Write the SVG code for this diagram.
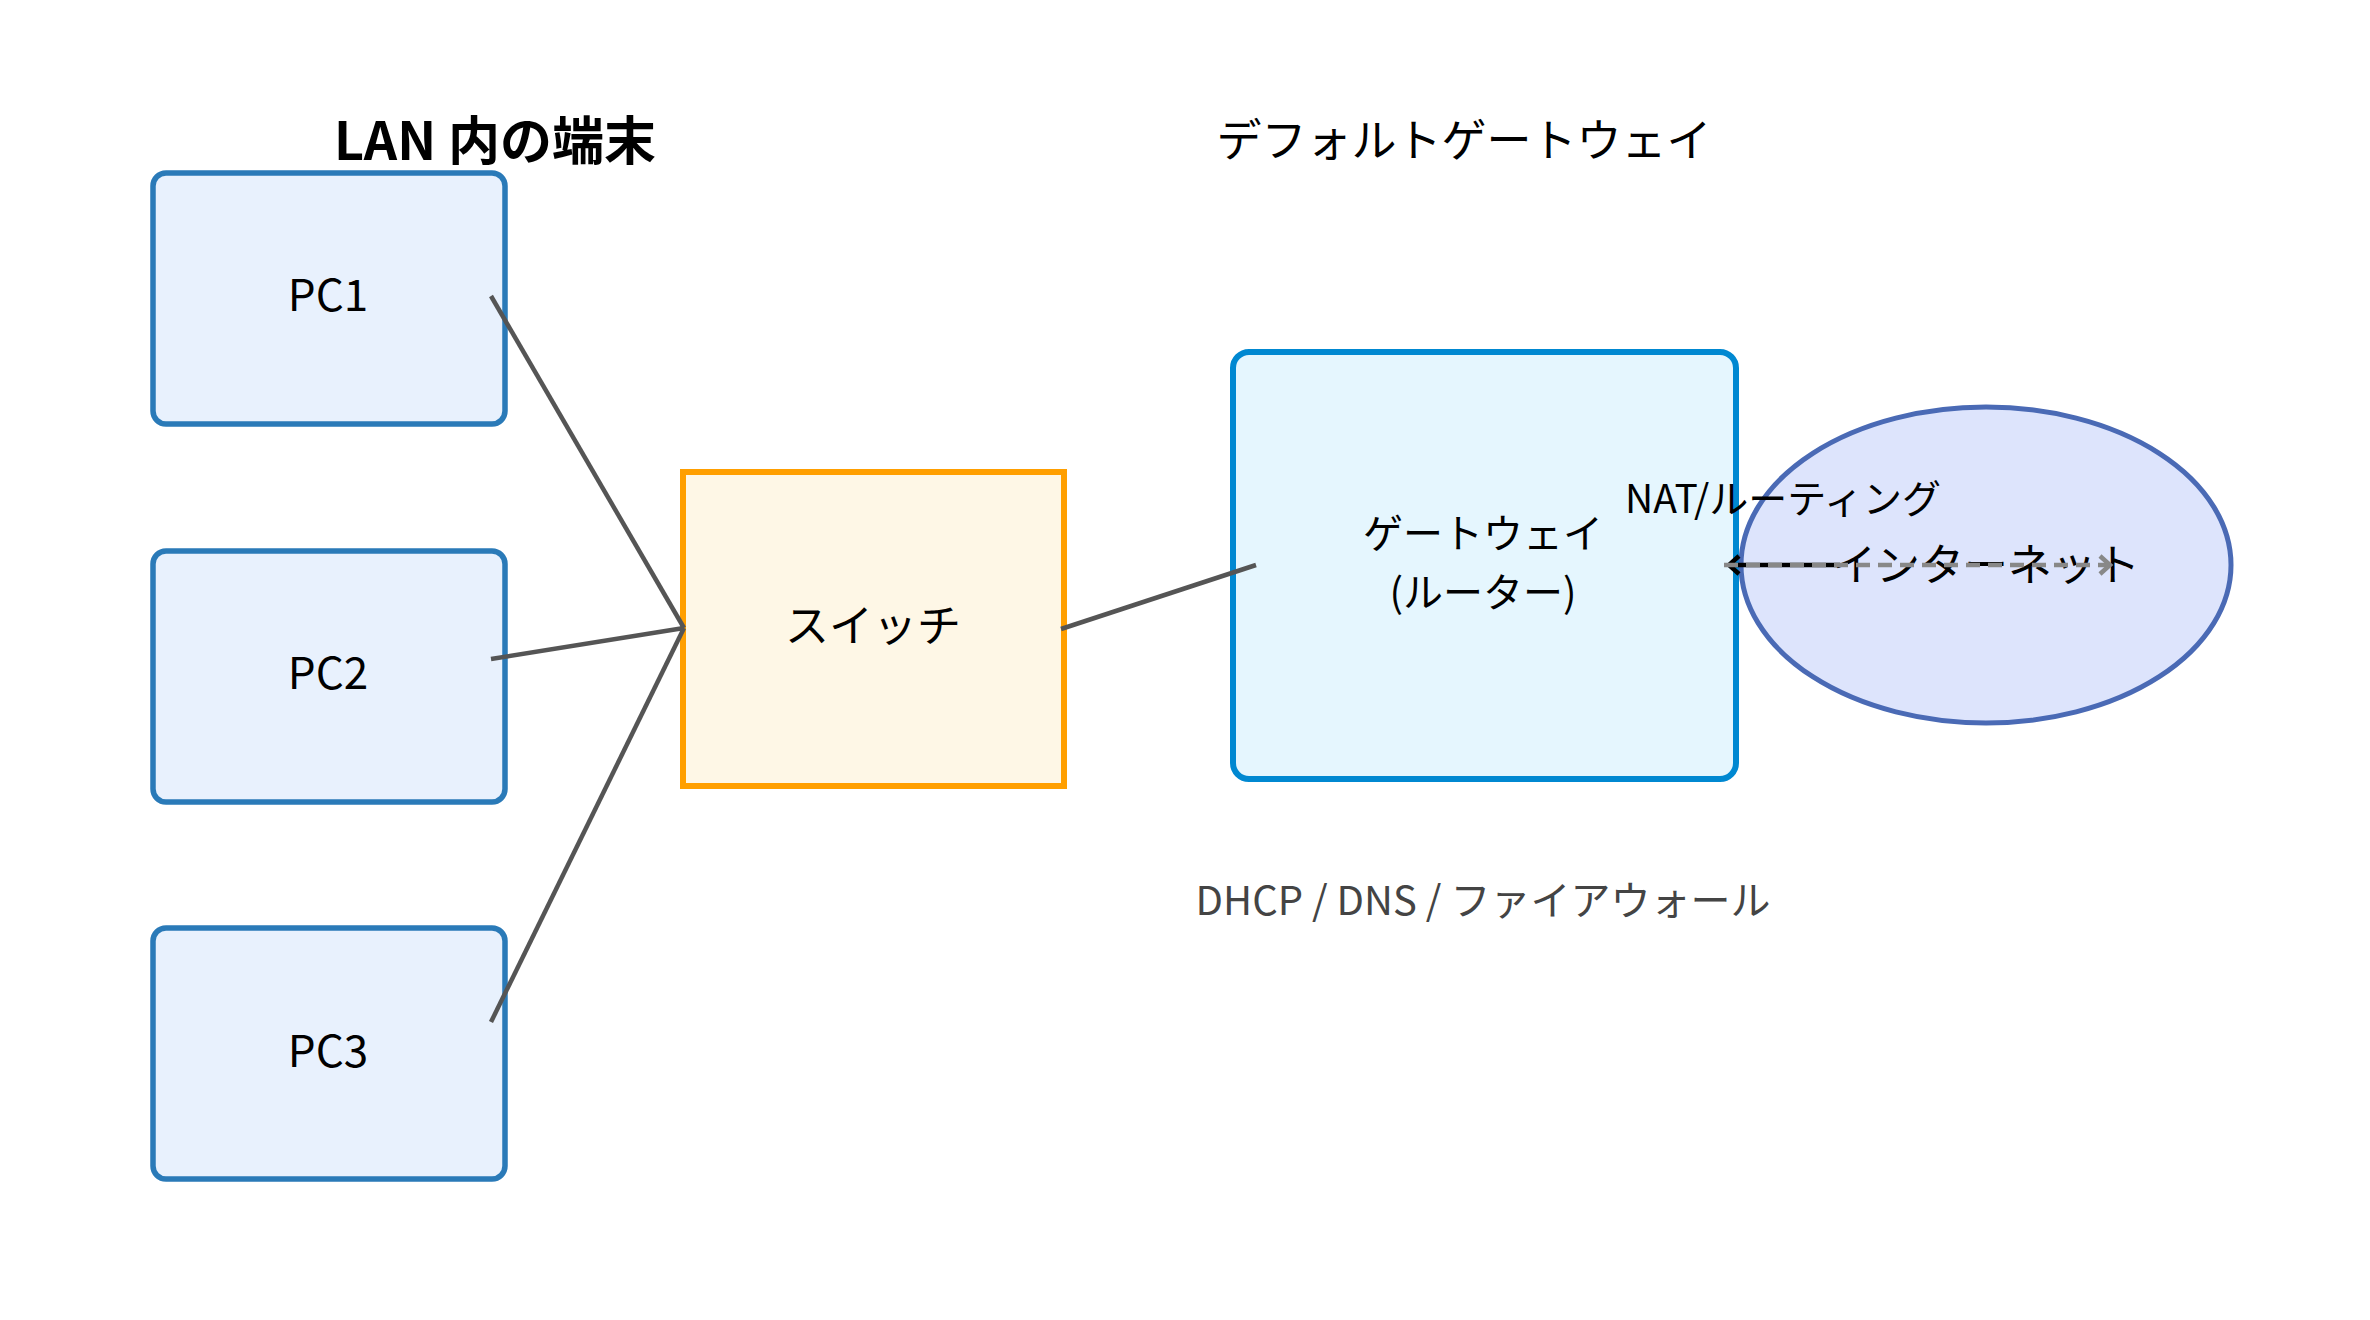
<svg xmlns="http://www.w3.org/2000/svg" width="2370" height="1320" viewBox="0 0 2370 1320">
<style>
text{font-family:"Noto Sans CJK JP","Noto Sans",sans-serif;fill:#000;text-anchor:middle;dominant-baseline:central}
.pc{fill:#e8f1fd;stroke:#2a7ab8;stroke-width:5.5}
.lbl{font-size:44px}
.edge{stroke:#555;stroke-width:4.5;fill:none}
</style>
<defs>
<marker id="hb" viewBox="0 0 24 24" refX="20" refY="12" markerWidth="24" markerHeight="24" markerUnits="userSpaceOnUse" orient="auto">
<path d="M10 3 L20 12 L10 21" fill="none" stroke="#000" stroke-width="4.5"/>
</marker>
<marker id="hg" viewBox="0 0 24 24" refX="20" refY="12" markerWidth="24" markerHeight="24" markerUnits="userSpaceOnUse" orient="auto">
<path d="M10 3 L20 12 L10 21" fill="none" stroke="#888" stroke-width="4.5"/>
</marker>
</defs>
<rect width="2370" height="1320" fill="#fff"/>
<text x="495" y="137" style="font-size:52px;font-weight:bold">LAN 内の端末</text>
<text x="1464" y="137" style="font-size:45px">デフォルトゲートウェイ</text>
<g id="pc1"><rect class="pc" x="153" y="173" width="352" height="251" rx="13"/><text class="lbl" x="328" y="292">PC1</text></g>
<g id="pc2"><rect class="pc" x="153" y="551" width="352" height="251" rx="13"/><text class="lbl" x="328" y="670">PC2</text></g>
<g id="pc3"><rect class="pc" x="153" y="928" width="352" height="251" rx="13"/><text class="lbl" x="328" y="1048">PC3</text></g>
<g id="switch"><rect x="683" y="472" width="381" height="314" fill="#fef7e6" stroke="#ff9f00" stroke-width="6"/><text class="lbl" x="873" y="623">スイッチ</text></g>
<g id="gateway"><rect x="1233" y="352" width="503" height="427" rx="16" fill="#e5f6fe" stroke="#0088d1" stroke-width="6"/><text x="1483" y="531" style="font-size:40px">ゲートウェイ</text><text x="1483" y="590" style="font-size:40px">(ルーター)</text></g>
<g id="internet"><ellipse cx="1986" cy="565" rx="245" ry="158" fill="#dde4fc" stroke="#4a6ab5" stroke-width="5"/><text class="lbl" x="1986" y="562">インターネット</text></g>
<g id="connectors">
<line class="edge" x1="491" y1="296" x2="684" y2="628"/>
<line class="edge" x1="491" y1="659" x2="684" y2="628"/>
<line class="edge" x1="491" y1="1022" x2="684" y2="628"/>
<line class="edge" x1="1061" y1="629" x2="1256" y2="565"/>
<path d="M1840 565 H1729" stroke="#000" stroke-width="4.5" fill="none" marker-end="url(#hb)"/>
<path d="M1724 565 H2110" stroke="#888" stroke-width="4.5" fill="none" stroke-dasharray="14 8" marker-end="url(#hg)"/>
</g>
<text x="1783" y="496" style="font-size:39px">NAT/ルーティング</text>
<text x="1483" y="898" style="font-size:40px;fill:#444">DHCP / DNS / ファイアウォール</text>
</svg>
